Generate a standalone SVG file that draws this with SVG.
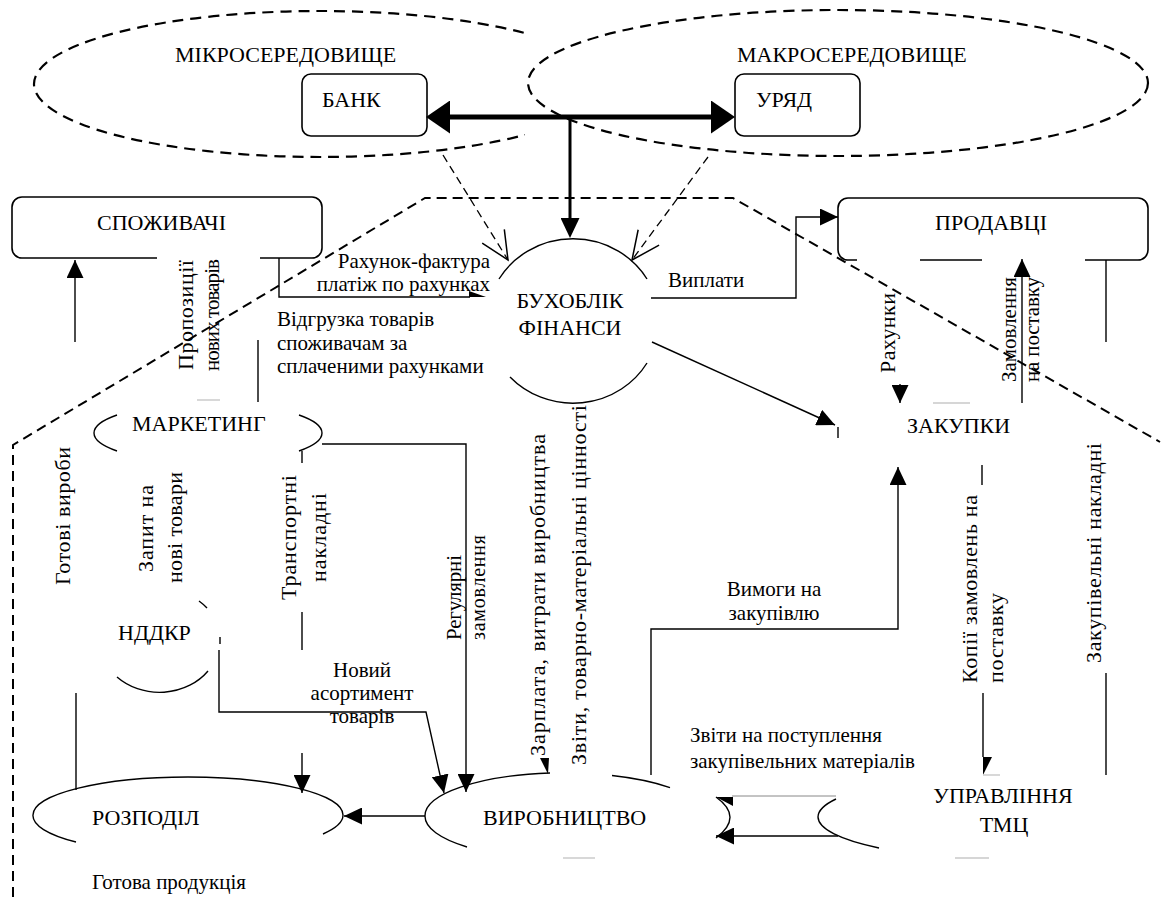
<svg xmlns="http://www.w3.org/2000/svg" width="1162" height="897" viewBox="0 0 1162 897">
<defs>
<marker id="a" markerUnits="userSpaceOnUse" markerWidth="18" markerHeight="17" refX="18" refY="8.5" orient="auto"><path d="M0,0 L18,8.5 L0,17 z" fill="#000"/></marker>
<marker id="tk" markerUnits="userSpaceOnUse" markerWidth="24" markerHeight="33" refX="0" refY="16.5" orient="auto-start-reverse"><path d="M0,0 L24,16.5 L0,33 z" fill="#000"/></marker>
<marker id="tk2" markerUnits="userSpaceOnUse" markerWidth="20" markerHeight="19" refX="0" refY="9.5" orient="auto"><path d="M0,0 L20,9.5 L0,19 z" fill="#000"/></marker>
<marker id="o" markerUnits="userSpaceOnUse" markerWidth="32" markerHeight="30" refX="30" refY="15" orient="auto"><path d="M2,2 L30,15 L2,28" fill="none" stroke="#000" stroke-width="1.5"/></marker>
<clipPath id="mc"><rect x="0" y="0" width="525" height="200"/></clipPath>
</defs>
<rect width="1162" height="897" fill="#fff"/>

<g id="environment">
<ellipse cx="320" cy="84" rx="286" ry="73" fill="none" stroke="#000" stroke-width="2.2" stroke-dasharray="11 7" clip-path="url(#mc)"/>
<ellipse cx="838" cy="83" rx="310" ry="73" fill="none" stroke="#000" stroke-width="2.2" stroke-dasharray="11 7"/>
<text x="175" y="62" font-family="Liberation Serif, serif" font-size="22">МІКРОСЕРЕДОВИЩЕ</text>
<text x="737" y="62" font-family="Liberation Serif, serif" font-size="22">МАКРОСЕРЕДОВИЩЕ</text>
</g>

<g id="boundary">
<polyline points="13,897 13,445 425,198 733,198 1160,442" fill="none" stroke="#000" stroke-width="2" stroke-dasharray="10 6"/>
</g>

<g id="bank">
<rect x="302" y="74" width="125" height="62" rx="9" fill="none" stroke="#000" stroke-width="1.6"/>
<text x="322" y="107" font-family="Liberation Serif, serif" font-size="22">БАНК</text>
</g>
<g id="government">
<rect x="735" y="74" width="125" height="62" rx="9" fill="none" stroke="#000" stroke-width="1.6"/>
<text x="756" y="107" font-family="Liberation Serif, serif" font-size="22">УРЯД</text>
</g>

<g id="consumers">
<path d="M157,258 L22,258 A10,10 0 0 1 12,248 L12,207 A10,10 0 0 1 22,197 L312,197 A10,10 0 0 1 322,207 L322,248 A10,10 0 0 1 312,258 L260,258" fill="none" stroke="#000" stroke-width="1.6"/>
<text x="97" y="230" font-family="Liberation Serif, serif" font-size="22">СПОЖИВАЧІ</text>
</g>

<g id="sellers">
<path d="M857,260 L848,260 A10,10 0 0 1 838,250 L838,208 A10,10 0 0 1 848,198 L1138,198 A10,10 0 0 1 1148,208 L1148,250 A10,10 0 0 1 1138,260 L1085,260 M920,260 L982,260" fill="none" stroke="#000" stroke-width="1.6"/>
<text x="935" y="230" font-family="Liberation Serif, serif" font-size="22">ПРОДАВЦІ</text>
</g>

<g id="accounting">
<path d="M499,279 A86,82 0 0 1 647,279 M510,377 A86,82 0 0 0 647,363" fill="none" stroke="#000" stroke-width="1.4"/>
<text x="570" y="308" text-anchor="middle" font-family="Liberation Serif, serif" font-size="22">БУХОБЛІК</text>
<text x="570" y="335" text-anchor="middle" font-family="Liberation Serif, serif" font-size="22">ФІНАНСИ</text>
</g>

<g id="marketing">
<path d="M117,415 A115,30 0 0 0 117,451 M299,415 A115,30 0 0 1 299,451" fill="none" stroke="#000" stroke-width="1.4"/>
<text x="132" y="431" font-family="Liberation Serif, serif" font-size="22">МАРКЕТИНГ</text>
</g>

<g id="rnd">
<path d="M199,601 A60,52 0 0 1 207,608 M220,637 L220,644 M117,677 A60,52 0 0 0 208,671" fill="none" stroke="#000" stroke-width="1.4"/>
<text x="118" y="640" font-family="Liberation Serif, serif" font-size="22">НДДКР</text>
</g>

<g id="distribution">
<path d="M76,842 A155,38 0 0 1 33,815 A155,38 0 0 1 343,815 A155,38 0 0 1 323,834" fill="none" stroke="#000" stroke-width="1.4"/>
<text x="92" y="825" font-family="Liberation Serif, serif" font-size="22">РОЗПОДІЛ</text>
</g>

<g id="production">
<path d="M467,847 A140,43 0 0 1 425,816 A140,43 0 0 1 550,773 M612,775.5 A140,43 0 0 1 670,787.6" fill="none" stroke="#000" stroke-width="1.4"/>
<text x="483" y="825" font-family="Liberation Serif, serif" font-size="22">ВИРОБНИЦТВО</text>
</g>

<g id="purchasing">
<line x1="838" y1="427" x2="838" y2="438" stroke="#000" stroke-width="1.4"/>
<line x1="933" y1="403" x2="970" y2="403" stroke="#c8c8c8" stroke-width="1.5"/>
<text x="907" y="433" font-family="Liberation Serif, serif" font-size="22">ЗАКУПКИ</text>
</g>

<g id="inventory">
<path d="M836,799 A185,42 0 0 0 818,817 A185,42 0 0 0 879,848" fill="none" stroke="#000" stroke-width="1.4"/>
<text x="1003" y="803" text-anchor="middle" font-family="Liberation Serif, serif" font-size="22">УПРАВЛІННЯ</text>
<text x="1004" y="832" text-anchor="middle" font-family="Liberation Serif, serif" font-size="22">ТМЦ</text>
</g>

<g id="connectors" fill="none" stroke="#000" stroke-width="1.4">
<line x1="450" y1="117" x2="711" y2="117" stroke-width="5" marker-start="url(#tk)" marker-end="url(#tk)"/>
<line x1="570" y1="117" x2="570" y2="218" stroke-width="3" marker-end="url(#tk2)"/>
<line x1="443" y1="155" x2="508" y2="260" stroke-width="1.3" stroke-dasharray="8 5" marker-end="url(#o)"/>
<line x1="708" y1="157" x2="632" y2="260" stroke-width="1.3" stroke-dasharray="8 5" marker-end="url(#o)"/>

<path d="M279,258 L279,297 L470,297"/>
<polygon points="469,291 486,297 469,297" fill="#000" stroke="none"/>
<line x1="75" y1="342" x2="75" y2="260" marker-end="url(#a)"/>
<line x1="258" y1="340" x2="258" y2="402"/>
<line x1="197" y1="400" x2="220" y2="400" stroke="#c8c8c8"/>

<path d="M651,298 L796,298 L796,217 L838,217" marker-end="url(#a)"/>
<line x1="652" y1="342" x2="835" y2="425" marker-end="url(#a)"/>
<line x1="900" y1="384" x2="900" y2="403" marker-end="url(#a)"/>
<line x1="1022" y1="403" x2="1022" y2="259" marker-end="url(#a)"/>
<line x1="1106" y1="260" x2="1106" y2="342"/>
<line x1="1106" y1="673" x2="1106" y2="775"/>

<path d="M322,444 L466,444 L466,792" marker-end="url(#a)"/>
<line x1="302" y1="451" x2="302" y2="463"/>
<line x1="302" y1="612" x2="302" y2="650"/>
<line x1="302" y1="753" x2="302" y2="793" marker-end="url(#a)"/>
<path d="M219,650 L219,712 L426,712 L444,793" marker-end="url(#a)"/>
<line x1="76" y1="693" x2="76" y2="790"/>
<line x1="425" y1="816" x2="344" y2="816" marker-end="url(#a)"/>

<polygon points="540,758 549,758 548,774" fill="#000" stroke="none"/>
<path d="M651,775 L651,629 L898,629 L898,467" marker-end="url(#a)"/>

<line x1="982" y1="465" x2="982" y2="485"/>
<line x1="983" y1="693" x2="983" y2="757"/>
<polygon points="983,757 992,757 983,775" fill="#000" stroke="none"/>
<line x1="983" y1="775" x2="1000" y2="775" stroke="#c8c8c8"/>

<line x1="732" y1="796" x2="836" y2="796" stroke="#888" stroke-width="1"/>
<polygon points="716,797 733,797 733,806" fill="#000" stroke="none"/>
<path d="M716,797 Q744,817 716,838"/>
<line x1="838" y1="836" x2="716" y2="836" marker-end="url(#a)"/>
<line x1="563" y1="858" x2="595" y2="858" stroke="#c8c8c8"/>
<line x1="955" y1="858" x2="989" y2="858" stroke="#c8c8c8"/>
</g>

<g id="labels">
<text x="490" y="268" text-anchor="end" font-family="Liberation Serif, serif" font-size="21">Рахунок-фактура</text>
<text x="490" y="291" text-anchor="end" font-family="Liberation Serif, serif" font-size="21">платіж по рахунках</text>
<text x="277" y="326" font-family="Liberation Serif, serif" font-size="21">Відгрузка товарів</text>
<text x="277" y="350" font-family="Liberation Serif, serif" font-size="21">споживачам за</text>
<text x="277" y="373" font-family="Liberation Serif, serif" font-size="21">сплаченими рахунками</text>
<text x="668" y="287" font-family="Liberation Serif, serif" font-size="21">Виплати</text>
<text x="362" y="677" text-anchor="middle" font-family="Liberation Serif, serif" font-size="21">Новий</text>
<text x="362" y="700" text-anchor="middle" font-family="Liberation Serif, serif" font-size="21">асортимент</text>
<text x="362" y="723" text-anchor="middle" font-family="Liberation Serif, serif" font-size="21">товарів</text>
<text x="774" y="596" text-anchor="middle" font-family="Liberation Serif, serif" font-size="21">Вимоги на</text>
<text x="774" y="620" text-anchor="middle" font-family="Liberation Serif, serif" font-size="21">закупівлю</text>
<text x="690" y="742" font-family="Liberation Serif, serif" font-size="21">Звіти на поступлення</text>
<text x="690" y="768" font-family="Liberation Serif, serif" font-size="21">закупівельних матеріалів</text>
<text x="92" y="889" font-family="Liberation Serif, serif" font-size="21">Готова продукція</text>

<text x="193" y="370" transform="rotate(-90 193 370)" font-family="Liberation Serif, serif" font-size="22" textLength="110" lengthAdjust="spacing">Пропозиції</text>
<text x="219" y="371" transform="rotate(-90 219 371)" font-family="Liberation Serif, serif" font-size="21" textLength="112" lengthAdjust="spacing">нових товарів</text>
<text x="70" y="585" transform="rotate(-90 70 585)" font-family="Liberation Serif, serif" font-size="22" textLength="138" lengthAdjust="spacing">Готові вироби</text>
<text x="153" y="572" transform="rotate(-90 153 572)" font-family="Liberation Serif, serif" font-size="22" textLength="87" lengthAdjust="spacing">Запит на</text>
<text x="182" y="583" transform="rotate(-90 182 583)" font-family="Liberation Serif, serif" font-size="22" textLength="111" lengthAdjust="spacing">нові товари</text>
<text x="296" y="600" transform="rotate(-90 296 600)" font-family="Liberation Serif, serif" font-size="22" textLength="125" lengthAdjust="spacing">Транспортні</text>
<text x="326" y="582" transform="rotate(-90 326 582)" font-family="Liberation Serif, serif" font-size="22" textLength="89" lengthAdjust="spacing">накладні</text>
<text x="461" y="640" transform="rotate(-90 461 640)" font-family="Liberation Serif, serif" font-size="21" textLength="85" lengthAdjust="spacing">Регулярні</text>
<text x="485" y="640" transform="rotate(-90 485 640)" font-family="Liberation Serif, serif" font-size="20" textLength="105" lengthAdjust="spacing">замовлення</text>
<text x="545" y="756" transform="rotate(-90 545 756)" font-family="Liberation Serif, serif" font-size="22" textLength="322" lengthAdjust="spacing">Зарплата, витрати виробництва</text>
<text x="586" y="765" transform="rotate(-90 586 765)" font-family="Liberation Serif, serif" font-size="22" textLength="360" lengthAdjust="spacing">Звіти, товарно-матеріальні цінності</text>
<text x="895" y="373" transform="rotate(-90 895 373)" font-family="Liberation Serif, serif" font-size="22" textLength="80" lengthAdjust="spacing">Рахунки</text>
<text x="1016" y="382" transform="rotate(-90 1016 382)" font-family="Liberation Serif, serif" font-size="21" textLength="105" lengthAdjust="spacing">Замовлення</text>
<text x="1039" y="382" transform="rotate(-90 1039 382)" font-family="Liberation Serif, serif" font-size="21" textLength="105" lengthAdjust="spacing">на поставку</text>
<text x="1101" y="663" transform="rotate(-90 1101 663)" font-family="Liberation Serif, serif" font-size="22" textLength="220" lengthAdjust="spacing">Закупівельні накладні</text>
<text x="977" y="683" transform="rotate(-90 977 683)" font-family="Liberation Serif, serif" font-size="22" textLength="188" lengthAdjust="spacing">Копії замовлень на</text>
<text x="1003" y="683" transform="rotate(-90 1003 683)" font-family="Liberation Serif, serif" font-size="22" textLength="90" lengthAdjust="spacing">поставку</text>
</g>
</svg>
